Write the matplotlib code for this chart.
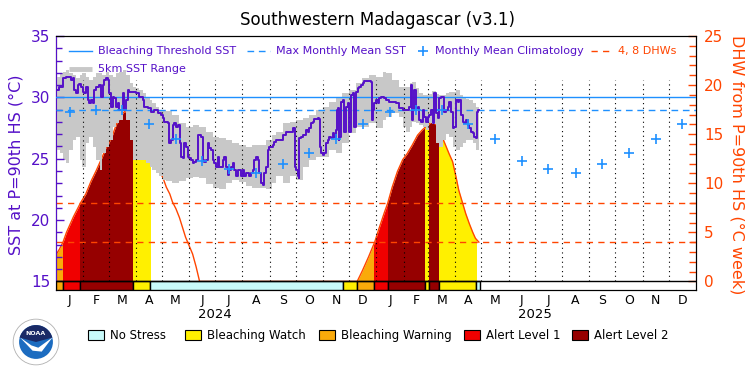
import matplotlib
matplotlib.use('Agg')
import matplotlib.pyplot as plt
from matplotlib.patches import Rectangle, Circle, Wedge, Polygon
import numpy as np

# x axis is days since 1 Jan 2024
month_letters = ['J', 'F', 'M', 'A', 'M', 'J', 'J', 'A', 'S', 'O', 'N', 'D'] * 2
month_len = [31, 29, 31, 30, 31, 30, 31, 31, 30, 31, 30, 31,
             31, 28, 31, 30, 31, 30, 31, 31, 30, 31, 30, 31]
years = ['2024', '2025']

clim_sst = [28.78, 29.0, 29.0, 27.83, 26.58, 24.84, 24.17, 23.82, 24.55, 25.44, 26.58, 27.83] * 2
mmm_sst = 29.0
threshold_sst = 30.0
dhw_lines = [4, 8]

# daily SST at P=90th HS (day, degC)
sst_daily = [
	(0, 30.6), (3.8, 30.86), (7.6, 31.55), (11.4, 31.68), (15.2, 31.68), (17.1, 31.41), (19, 31.55),
	(20.9, 30.6), (22.8, 30.33), (24.7, 31.0), (26.7, 31.1), (28.6, 30.86), (30.5, 30.46), (32.4, 30.33),
	(34.3, 30.86), (36.2, 29.78), (38.1, 29.51), (40, 29.78), (41.9, 29.51), (43.8, 30.6), (45.7, 30.86),
	(47.6, 30.86), (49.5, 31.0), (51.4, 30.05), (53.3, 31.0), (55.2, 31.41), (57.1, 31.55), (59, 31.41),
	(60.9, 30.33), (62.8, 29.24), (64.7, 30.05), (66.6, 29.92), (68.5, 29.24), (70.4, 29.51), (72.3, 28.97),
	(74.2, 28.97), (76.1, 30.33), (78, 28.97), (80, 29.78), (81.9, 30.6), (83.8, 30.46), (87.6, 30.46),
	(91.4, 30.33), (95.2, 30.05), (99, 29.78), (100.9, 29.24), (104.7, 29.1), (108.5, 28.83), (112.3, 28.97),
	(116.1, 28.7), (119.9, 28.56), (121.8, 28.29), (123.7, 28.0),
	(125.6, 28.0), (127.5, 27.88), (129.4, 26.25), (131.3, 26.52), (133.2, 27.74), (135.1, 27.88), (137, 27.6),
	(138.9, 27.74), (140.8, 27.74), (141.6, 26.25), (142.7, 25.17), (144.6, 25.03), (146.5, 26.25),
	(148.4, 25.98), (150.3, 25.17), (152.3, 25.03), (154.2, 24.9), (156.1, 24.63), (158, 24.76), (159.9, 24.9),
	(161.8, 26.93), (163.7, 26.93), (165.6, 26.79), (167.5, 24.9), (169.4, 24.76), (171.3, 24.9),
	(173.2, 26.25), (175.1, 25.85), (177, 25.71), (178.9, 24.9), (180.8, 24.63), (182.7, 24.36),
	(184.6, 25.17), (186.5, 24.36), (188.4, 24.36), (190.3, 24.9), (192.2, 25.17), (194.1, 24.36),
	(196, 23.68), (197.9, 24.09), (199.8, 24.36), (201.7, 24.63), (203.6, 24.09), (205.5, 23.55),
	(207.5, 24.09), (209.4, 24.09), (211.3, 23.55), (213.2, 24.09), (215.1, 23.55), (217, 23.82),
	(218.9, 23.82), (220.8, 23.55), (222.7, 23.82), (224.6, 24.09), (226.5, 24.9), (228.4, 25.17),
	(230.3, 24.9), (232.2, 23.82), (234.1, 23.0), (236, 22.87), (237.9, 23.82), (239.8, 24.36),
	(241.7, 25.71), (243.6, 25.98), (245.5, 25.98), (247.4, 26.12), (249.3, 26.39),
	(251.3, 26.52), (255.1, 26.52), (258.9, 26.93), (262.7, 27.2), (266.5, 27.2), (270.3, 27.47),
	(272.2, 27.47), (273, 24.36), (274.1, 24.09), (276, 23.55), (277.2, 23.41), (278, 26.66), (279.9, 26.79),
	(281.8, 26.93), (285.6, 27.33), (287.5, 27.2), (289.4, 27.47), (291.3, 27.88), (293.2, 28.01),
	(295.1, 28.2), (298.9, 28.29), (300.8, 28.2), (301.6, 25.98), (302.7, 25.44), (304.6, 25.3),
	(306.5, 25.44), (308.4, 26.25), (310.3, 26.52), (312.2, 26.79), (314.1, 26.66), (316, 27.06),
	(317.9, 26.79), (319.8, 27.33), (320.6, 28.97), (321.7, 29.1), (322.9, 26.52), (323.6, 26.79),
	(325.5, 29.65), (327.4, 29.78), (329.4, 27.2), (331.3, 29.24), (333.2, 29.51), (335, 27.2),
	(337, 30.19), (338.9, 30.33), (340.8, 27.6), (342.7, 30.46), (344.6, 30.73), (346.5, 30.86),
	(348.4, 31.0), (350.3, 31.14), (352.2, 31.36), (356, 31.36), (359.8, 31.27), (360.6, 28.15),
	(361.7, 28.97), (363.6, 29.51), (365.5, 29.78), (367.4, 29.51), (369.3, 29.92), (371.2, 30.05),
	(373.1, 30.05), (375, 29.92),
	(376.9, 29.78), (380.7, 29.65), (384.5, 29.65), (388.3, 29.51), (392.1, 29.1), (395.9, 28.97),
	(399.7, 28.97), (403.6, 29.24), (405.5, 31.0), (406.6, 28.15), (407.4, 28.97), (409.3, 30.6),
	(411.2, 29.1), (413.1, 29.24), (415, 28.15), (416.9, 28.01), (418.8, 28.97), (420.7, 28.42),
	(422.6, 28.01), (424.5, 28.42), (426.4, 28.56), (428.3, 28.97), (430.2, 27.88), (432.1, 30.33),
	(434, 28.7), (435.9, 28.29), (437.8, 29.92), (439.7, 30.05), (441.6, 30.05), (443.5, 28.83),
	(445.4, 28.97), (447.3, 29.24), (449.2, 29.65), (451.1, 28.83), (453, 27.47), (454.9, 27.6),
	(456.9, 29.78), (458.8, 29.65), (460.7, 29.78), (462.6, 28.56), (464.5, 28.01), (466.4, 27.88),
	(468.3, 28.15), (470.2, 27.74), (472.1, 27.47), (474, 27.2), (475.9, 27.06), (477.8, 26.79),
	(479.7, 26.66), (480.5, 28.83), (481.6, 28.97), (483, 28.97),
]

# 5km SST range
range_days = [0, 4, 8, 11, 15, 19, 23, 27, 30, 34, 38, 42, 46, 50, 53, 57, 61, 65, 69, 72,
              76, 80, 84, 88, 91, 95, 99, 103, 107, 110, 114, 118, 122, 126, 133, 141, 148, 156, 163, 171,
              179, 186, 194, 201, 209, 217, 224, 232, 240, 247, 251, 259, 267, 274, 282, 289, 297, 305, 312, 320,
              327, 335, 343, 350, 358, 365, 373, 377, 384, 392, 396, 400, 404, 407, 411, 415, 419, 423, 426, 430,
              434, 438, 442, 445, 449, 453, 457, 461, 465, 468, 472, 476, 480, 483]
range_hi = [31.68, 31.95, 32.09, 32.22, 31.95, 31.82, 31.55, 31.82, 31.95, 31.68, 31.41, 31.68, 31.95, 31.95, 31.82, 32.09, 31.82, 31.68, 31.95, 32.09,
            32.22, 31.82, 31.14, 30.86, 30.73, 30.6, 30.33, 30.05, 29.78, 29.51, 29.24, 28.97, 28.97, 28.9, 28.56, 27.88, 27.6, 27.74, 27.6, 27.2,
            26.79, 26.66, 26.52, 26.25, 26.12, 25.98, 26.12, 26.12, 26.52, 26.9, 27.2, 27.88, 28.01, 28.15, 28.29, 28.56, 28.97, 29.24, 29.65, 30.05,
            30.33, 30.6, 31.14, 31.55, 31.82, 31.68, 32.1, 31.95, 31.41, 30.86, 30.86, 30.86, 31.14, 31.27, 30.73, 30.33, 30.2, 30.19, 30.3, 30.5,
            30.3, 30.19, 30.2, 30.33, 30.4, 30.46, 30.6, 30.2, 29.92, 29.85, 29.78, 29.51, 29.24, 29.24]
range_lo = [25.71, 25.44, 24.9, 24.63, 25.71, 26.52, 26.79, 24.9, 24.36, 26.25, 26.79, 25.98, 24.9, 24.09, 25.44, 25.98, 26.52, 27.6, 27.88, 28.15,
            28.9, 28.15, 26.52, 24.9, 24.9, 24.9, 24.9, 24.63, 24.36, 24.09, 23.8, 23.6, 23.3, 23.2, 23.0, 23.2, 23.4, 23.5, 23.4, 22.9,
            22.6, 22.5, 23.0, 23.28, 23.1, 22.8, 22.6, 22.6, 22.5, 23.0, 23.6, 23.0, 23.55, 23.28, 24.36, 24.9, 25.17, 25.17, 25.71, 25.44,
            26.25, 27.06, 27.6, 27.6, 27.88, 27.47, 28.15, 28.42, 28.7, 28.42, 27.6, 27.2, 27.6, 28.0, 27.88, 27.74, 27.6, 27.33, 27.9, 27.8,
            26.25, 25.98, 26.52, 27.0, 26.79, 25.98, 25.71, 25.98, 26.3, 26.5, 26.52, 26.25, 25.71, 25.58]

# degree heating weeks (degC week)
dhw_days = [0, 4, 8, 12, 16, 20, 24, 28, 34, 40, 46, 53, 57, 61, 65, 69, 73, 78, 82, 88,
            95, 101, 108, 114, 118, 122, 126, 130, 133, 137, 141, 148, 156, 160, 164,
            344, 350, 357, 364, 369, 375, 379, 384, 390, 396, 401, 407, 413, 418, 424,
            430, 436, 443, 449, 453, 457, 460, 464, 468, 472, 476, 479, 483]
dhw_vals = [2.7, 3.3, 4.0, 5.0, 5.8, 6.6, 7.3, 8.0, 8.9, 10.2, 11.3, 12.7, 13.6, 14.2, 15.0, 16.0, 16.7, 17.3, 17.2, 16.2,
            14.8, 13.6, 12.2, 11.6, 11.2, 10.6, 9.6, 8.9, 8.1, 7.4, 6.5, 4.5, 2.8, 1.5, 0.0,
            0.0, 1.1, 2.5, 4.0, 5.4, 7.0, 8.0, 9.6, 11.2, 12.4, 13.0, 13.9, 14.9, 15.4, 15.9,
            16.3, 15.8, 14.3, 13.0, 12.2, 10.6, 9.3, 8.1, 6.9, 5.9, 5.0, 4.4, 4.0]

# bleaching alert periods: 0 no stress, 1 watch, 2 warning, 3 alert 1, 4 alert 2
stress_start = [0, 8.0, 27.8, 88.3, 107.5, 327.9, 344.3, 363.2, 379.0, 421.0, 426.4, 437.8, 479.3]
stress_end = [8.0, 27.8, 88.3, 107.5, 327.9, 344.3, 363.2, 379.0, 421.0, 426.4, 437.8, 479.3, 484.0]
stress_level = [2, 3, 4, 1, 0, 1, 2, 3, 4, 1, 4, 1, 0]
stress_names = ['No Stress', 'Bleaching Watch', 'Bleaching Warning', 'Alert Level 1', 'Alert Level 2']
stress_colors = ['#C8FAFA', '#FFF000', '#FAAA0A', '#F00000', '#960000']

PURPLE = '#5510C8'
BLUE = '#1E90FF'
RED = '#FF4500'
GREY = '#C8C8C8'


def plot_chart():
	sst_min, sst_max = 14.3, 35.0
	dhw_max = 25.0
	dhw_min = (sst_min - 15.0) * dhw_max / (sst_max - 15.0)

	starts = np.concatenate([[0], np.cumsum(month_len)])
	mids = starts[:-1] + np.array(month_len) / 2.0
	ndays = starts[-1]

	fig = plt.figure(figsize=(7.5, 3.75), dpi=100)
	ax = fig.add_axes([56 / 750, 85 / 375, 640 / 750, 254 / 375])
	ax2 = ax.twinx()
	ax.set_zorder(ax2.get_zorder() + 1)
	ax.patch.set_visible(False)

	# DHW area, coloured by alert level
	for s, e, lev in zip(stress_start, stress_end, stress_level):
		if lev == 0:
			continue
		poly = ax2.fill_between(dhw_days, 0, dhw_vals, color=stress_colors[lev], lw=0, zorder=1)
		clip = Rectangle((s, dhw_min), e - s, dhw_max - dhw_min, transform=ax2.transData)
		poly.set_clip_path(clip)
	ax2.plot(dhw_days, dhw_vals, color=RED, lw=1.0, zorder=2)
	for d in dhw_lines:
		ax2.axhline(d, color=RED, lw=1.0, dashes=(4.5, 3.8), zorder=3)
	ax2.set_ylim(dhw_min, dhw_max)

	# SST
	ax.fill_between(range_days, range_lo, range_hi, step='post', color=GREY, lw=0, zorder=1)
	ax.vlines(starts[1:-1], 15, 31.4, colors='k', linestyles=(0, (1, 3.2)), lw=0.8, zorder=2)
	ax.axhline(threshold_sst, color=BLUE, lw=1.0, zorder=3)
	ax.axhline(mmm_sst, color=BLUE, lw=1.0, dashes=(4.8, 3.4), zorder=3)
	sd = [p[0] for p in sst_daily]
	sv = [p[1] for p in sst_daily]
	ax.plot(sd, sv, color=PURPLE, lw=1.4, drawstyle='steps-post', zorder=4)
	ax.plot(mids, clim_sst, ls='none', marker='+', ms=7, mew=1.2, color=BLUE, zorder=5)

	# alert strip along the bottom
	widths = [e - s for s, e in zip(stress_start, stress_end)]
	ax.bar(stress_start, 15 - sst_min, width=widths, bottom=sst_min, align='edge',
	       color=[stress_colors[l] for l in stress_level], edgecolor='k', lw=1.0, zorder=6)
	ax.axhline(15, color='k', lw=1.0, zorder=6)

	ax.set_xlim(0, ndays)
	ax.set_ylim(sst_min, sst_max)

	ax.set_xticks(mids)
	ax.set_xticklabels(month_letters, fontsize=9)
	ax.tick_params(axis='x', length=0, pad=3)
	ax.set_yticks([15, 20, 25, 30, 35])
	ax.set_yticks(np.arange(15, 36, 1), minor=True)
	ax.tick_params(axis='y', which='both', direction='in', colors=PURPLE, labelsize=11, pad=4)
	ax.tick_params(axis='y', which='major', length=6, width=1)
	ax.tick_params(axis='y', which='minor', length=4, width=1)
	ax2.set_yticks([0, 5, 10, 15, 20, 25])
	ax2.set_yticks(np.arange(0, 26, 1), minor=True)
	ax2.tick_params(axis='y', which='both', direction='in', colors=RED, labelsize=11, pad=6)
	ax2.tick_params(axis='y', which='major', length=6, width=1)
	ax2.tick_params(axis='y', which='minor', length=5, width=1)
	ax.spines['left'].set_color(PURPLE)

	for yr, d in zip(years, [starts[6], starts[18]]):
		ax.text(d, -0.098, yr, transform=ax.get_xaxis_transform(), ha='center', va='center', fontsize=9.5)

	# legend inside the plot
	tr = ax.transAxes
	ax.plot([0.021, 0.056], [0.941, 0.941], color=BLUE, lw=1.0, transform=tr, zorder=7)
	ax.text(0.066, 0.941, 'Bleaching Threshold SST', color=PURPLE, fontsize=8, va='center', transform=tr, zorder=7)
	ax.plot([0.298, 0.334], [0.941, 0.941], color=BLUE, lw=1.0, dashes=(4.8, 3.4), transform=tr, zorder=7)
	ax.text(0.344, 0.941, 'Max Monthly Mean SST', color=PURPLE, fontsize=8, va='center', transform=tr, zorder=7)
	ax.plot([0.573], [0.941], ls='none', marker='+', ms=7, mew=1.2, color=BLUE, transform=tr, zorder=7)
	ax.text(0.592, 0.941, 'Monthly Mean Climatology', color=PURPLE, fontsize=8, va='center', transform=tr, zorder=7)
	ax.plot([0.836, 0.870], [0.941, 0.941], color=RED, lw=1.0, dashes=(4.5, 3.8), transform=tr, zorder=7)
	ax.text(0.878, 0.941, '4, 8 DHWs', color=RED, fontsize=8, va='center', transform=tr, zorder=7)
	ax.plot([0.021, 0.056], [0.872, 0.872], color=GREY, lw=3.5, solid_capstyle='butt', transform=tr, zorder=7)
	ax.text(0.066, 0.872, '5km SST Range', color=PURPLE, fontsize=8, va='center', transform=tr, zorder=7)

	fig.text(0.503, 0.947, 'Southwestern Madagascar (v3.1)', ha='center', va='center', fontsize=12)
	fig.text(16.5 / 750, 1 - 165 / 375, 'SST at P=90th HS (°C)', rotation=90, ha='center', va='center',
	         color=PURPLE, fontsize=11.5)
	fig.text(737 / 750, 1 - 165 / 375, 'DHW from P=90th HS (°C week)', rotation=270, ha='center', va='center',
	         color=RED, fontsize=11.5)

	# alert level legend
	box_x = [87.5, 184.6, 319.2, 464.0, 572.0]
	for k, name in enumerate(stress_names):
		fig.patches.append(Rectangle((box_x[k] / 750, 1 - 340 / 375), 16 / 750, 10 / 375,
		                             facecolor=stress_colors[k], edgecolor='k', lw=0.8, transform=fig.transFigure))
		fig.text((box_x[k] + 22) / 750, 1 - 335.5 / 375, name, ha='left', va='center', fontsize=8.5)

	# NOAA emblem
	lax = fig.add_axes([12 / 750, 1 - 366 / 375, 48 / 750, 48 / 375])
	lax.set_xlim(-1.05, 1.05)
	lax.set_ylim(-1.05, 1.05)
	lax.set_aspect('equal')
	lax.axis('off')
	lax.add_patch(Circle((0, 0), 1.0, facecolor='white', edgecolor='#b0b0b0', lw=0.6))
	lax.add_patch(Circle((0, 0), 0.74, facecolor='#1c6cc0', edgecolor='none'))
	lax.add_patch(Wedge((0, 0), 0.74, 15, 165, facecolor='#1a2a66', edgecolor='none'))
	lax.add_patch(Polygon([[-0.7, 0.2], [-0.2, -0.15], [0.1, -0.25], [0.72, 0.2], [0.25, -0.42],
	                       [-0.15, -0.38]], closed=True, facecolor='white', edgecolor='none'))
	lax.text(0, 0.38, 'NOAA', color='white', fontsize=4.5, fontweight='bold', ha='center', va='center')

	fig.savefig('out.png', dpi=100)


if __name__ == "__main__":
	plot_chart()
